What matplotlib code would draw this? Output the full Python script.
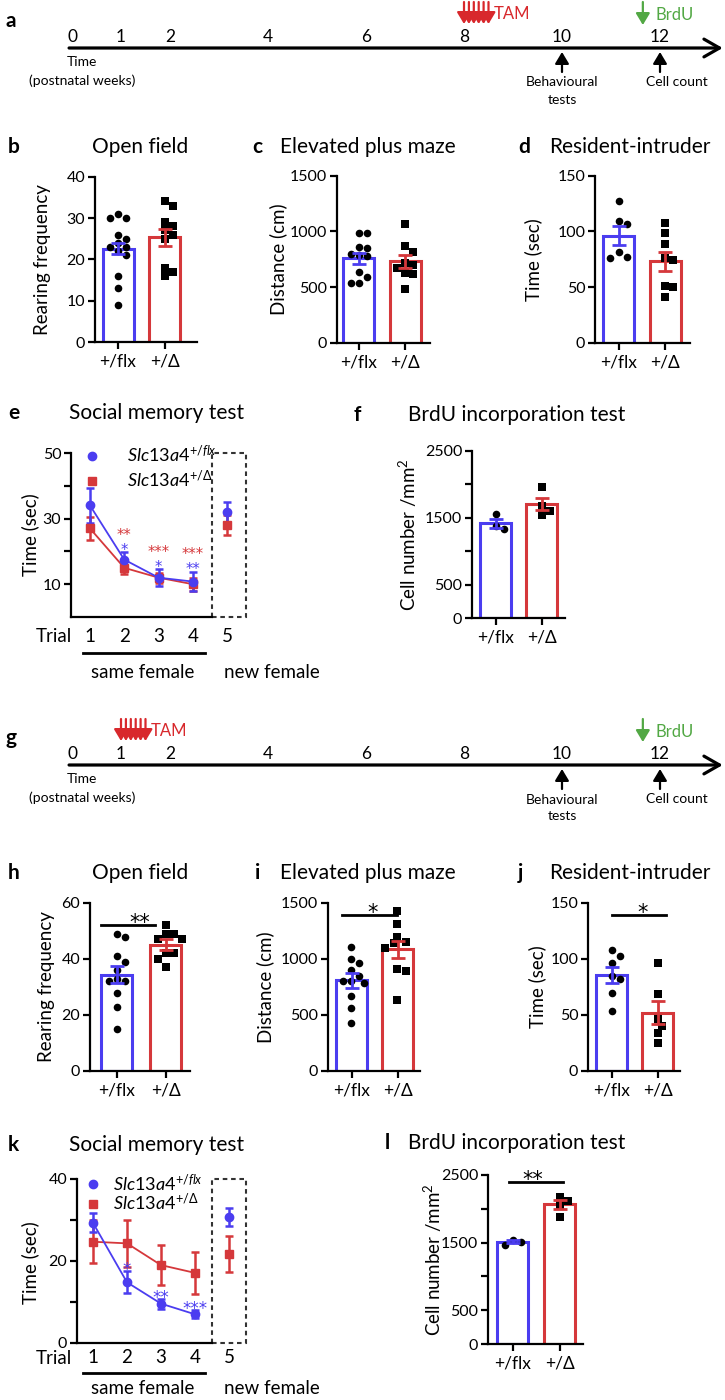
import numpy as np
import matplotlib
matplotlib.use("Agg")
import matplotlib.pyplot as plt
from matplotlib.patches import Rectangle
from matplotlib.lines import Line2D

plt.rcParams['font.family'] = ['Lato', 'DejaVu Sans']
plt.rcParams['mathtext.fontset'] = 'custom'
plt.rcParams['mathtext.it'] = 'Lato:italic'
plt.rcParams['mathtext.rm'] = 'Lato'

BLUE = '#4b3df0'
RED = '#d5383b'
GREEN = '#52a844'
TAM_RED = '#d8282c'

# ---------------- data ----------------
weeks = [0, 1, 2, 4, 6, 8, 10, 12]
tam_adult = [8.0, 8.1, 8.2, 8.3, 8.4, 8.5]
tam_juvenile = [1.0, 1.1, 1.2, 1.3, 1.4, 1.5]
brdu_week = 11.65
behav_week = 10
count_week = 12

genotypes = ['+/flx', '+/Δ']
trials = [1, 2, 3, 4, 5]

# adult deletion (b-f)
of_flx_a = [30, 30, 31, 26, 25, 24, 23, 23, 22, 21, 16, 13, 9]
of_del_a = [34, 33, 29, 28, 27, 26, 25, 18, 17, 16]
of_mean_a = [22.6, 25.3]
of_sem_a = [1.3, 2.0]

epm_flx_a = [990, 990, 860, 850, 800, 790, 780, 640, 590, 540, 540]
epm_del_a = [1070, 870, 820, 720, 700, 670, 630, 620, 480]
epm_mean_a = [761, 731]
epm_sem_a = [50, 60]

ri_flx_a = [127, 109, 107, 82, 77, 76]
ri_del_a = [108, 99, 89, 76, 74, 51, 50, 41]
ri_mean_a = [96.3, 73.5]
ri_sem_a = [8.5, 8.5]

sm_flx_a = [34, 17.5, 12, 10.8, 32]
sm_flx_err_a = [5.3, 2.2, 2.7, 3.0, 3.0]
sm_del_a = [27, 15, 12, 10, 28]
sm_del_err_a = [3.5, 2.0, 1.5, 2.0, 3.0]
sm_blue_stars_a = ['', '*', '*', '**', '']
sm_red_stars_a = ['', '**', '***', '***', '']

brdu_flx_a = [1550, 1375, 1325]
brdu_del_a = [1965, 1675, 1605, 1540]
brdu_mean_a = [1415, 1700]
brdu_sem_a = [65, 90]

# juvenile deletion (h-l)
of_flx_g = [49, 48, 41, 39, 36, 33, 32, 32, 28, 23, 15]
of_del_g = [52, 49, 49, 47, 47, 42, 42, 40, 37]
of_mean_g = [34.4, 45.1]
of_sem_g = [3.0, 2.0]

epm_flx_g = [1110, 1000, 960, 900, 850, 800, 800, 790, 670, 560, 430]
epm_del_g = [1430, 1310, 1200, 1150, 1140, 1100, 910, 890, 630]
epm_mean_g = [809, 1085]
epm_sem_g = [65, 75]

ri_flx_g = [108, 103, 96, 85, 82, 70, 54]
ri_del_g = [96, 69, 46, 40, 34, 25]
ri_mean_g = [85.8, 52.1]
ri_sem_g = [7, 10]

sm_flx_g = [29.3, 14.8, 9.6, 7.0, 30.7]
sm_flx_err_g = [2.3, 2.7, 1.2, 1.0, 2.2]
sm_del_g = [24.7, 24.3, 19.0, 17.1, 21.7]
sm_del_err_g = [5.2, 5.7, 4.9, 5.1, 4.5]
sm_blue_stars_g = ['', '*', '**', '***', '']

brdu_flx_g = [1535, 1470, 1510]
brdu_del_g = [2180, 2120, 2060, 1880]
brdu_mean_g = [1515, 2069]
brdu_sem_g = [20, 65]

# ---------------- layout helpers ----------------
W, H = 725, 1400
fig = plt.figure(figsize=(7.25, 14), dpi=100)


def px_axes(left, top, right, bottom):
    return fig.add_axes([left / W, 1 - bottom / H, (right - left) / W, (bottom - top) / H])


def ftext(x, y, s, **kw):
    fig.text(x / W, 1 - y / H, s, **kw)


def panel_head(letter, lx, title, tx, y):
    ftext(lx, y, letter, fontsize=15, fontweight='bold', va='center', ha='left')
    ftext(tx, y, title, fontsize=15, va='center', ha='center')


def style_axes(ax):
    for s in ('top', 'right'):
        ax.spines[s].set_visible(False)
    for s in ('left', 'bottom'):
        ax.spines[s].set_linewidth(1.6)
    ax.tick_params(which='both', length=5, width=1.6, direction='out')
    ax.tick_params(axis='y', labelsize=11.5, pad=2)


def swarm_x(ax, x0, vals, d):
    pts = ax.transData.transform(np.column_stack([np.full(len(vals), x0), vals]))
    py = pts[:, 1]
    px0 = pts[0, 0]
    cands = [0.0]
    for j in range(1, 40):
        cands += [j * d / 2, -j * d / 2]
    placed = []
    xs = np.zeros(len(vals))
    for i in np.argsort(-np.asarray(vals, dtype=float)):
        for c in cands:
            if all((c - qx) ** 2 + (py[i] - qy) ** 2 >= d * d * 0.95 for qx, qy in placed):
                break
        placed.append((c, py[i]))
        xs[i] = px0 + c
    back = ax.transData.inverted().transform(np.column_stack([xs, py]))
    return back[:, 0]


def star_text(ax, x, y, s, color, fs, gap_px):
    # centre of the asterisk glyph sits about 0.6 em above the baseline
    ax.annotate(s, xy=(x, y), xytext=(0, gap_px / 1.389 - 0.6 * fs),
                textcoords='offset points', ha='center', va='baseline',
                fontsize=fs, color=color, family='DejaVu Sans', annotation_clip=False)


def bar_panel(geom, flx, dl, means, sems, ylim, major, minor, ylabel, ylab_x, sig=None):
    left, top, right, bottom, c0, c1 = geom
    ax = px_axes(left, top, right, bottom)
    step = c1 - c0
    ax.set_xlim((left - c0) / step, (right - c0) / step)
    ax.set_ylim(*ylim)
    ax.bar([0, 1], means, width=31 / step, color='white', edgecolor=[BLUE, RED],
           linewidth=2.2, zorder=1)
    for x0, vals, mk, sz in ((0, flx, 'o', 30), (1, dl, 's', 34)):
        xs = swarm_x(ax, x0, vals, 8.0)
        ax.scatter(xs, vals, s=sz, marker=mk, color='black', zorder=2, linewidths=0, clip_on=False)
    for x0, m, e, c in zip([0, 1], means, sems, [BLUE, RED]):
        ax.errorbar(x0, m, yerr=e, color=c, capsize=5, elinewidth=2, capthick=2, zorder=3)
    style_axes(ax)
    ax.set_yticks(major)
    ax.set_yticks(minor, minor=True)
    ax.set_xticks([0, 1])
    ax.set_xticklabels(genotypes, fontsize=12.5)
    ax.tick_params(axis='x', pad=3)
    ftext(ylab_x, (top + bottom) / 2, ylabel, rotation=90, ha='center', va='center', fontsize=13.5)
    if sig is not None:
        s, x1, x2, xs_, frac = sig
        y = ylim[1] * frac
        ax.plot([x1, x2], [y, y], color='black', lw=2, clip_on=False)
        star_text(ax, xs_, y, s, 'black', 15, 8)
    return ax


def line_panel(geom, flx, flx_err, dl, dl_err, ylim, major, minor, box_px, offs,
               leg, blue_stars, red_stars=None, star_fs=10.5):
    left, top, right, bottom, t1px, step = geom
    ax = px_axes(left, top, right, bottom)
    x0, x1 = 1 + (left - t1px) / step, 1 + (right - t1px) / step
    ax.set_xlim(x0, x1)
    ax.set_ylim(*ylim)
    bx = 1 + (box_px - t1px) / step
    for vals, err, c, mk in ((dl, dl_err, RED, 's'), (flx, flx_err, BLUE, 'o')):
        ax.errorbar(trials[:4], vals[:4], yerr=err[:4], color=c, marker=mk, ms=6, lw=1.3,
                    capsize=3, elinewidth=1.8, capthick=1.8, clip_on=False)
        ax.errorbar(trials[4:], vals[4:], yerr=err[4:], color=c, marker=mk, ms=6, ls='none',
                    capsize=3, elinewidth=1.8, capthick=1.8)
    style_axes(ax)
    ax.spines['bottom'].set_bounds(x0, bx)
    ax.add_patch(Rectangle((bx, ylim[0]), x1 - bx - 0.02, ylim[1] - ylim[0], fill=False,
                           ls=(0, (2.2, 1.8)), lw=1.5, ec='#333333', clip_on=False))
    ax.set_yticks(major)
    ax.set_yticks(minor, minor=True)
    ax.set_xticks(trials)
    ax.set_xticklabels([str(t) for t in trials], fontsize=13.5)
    h = bottom - top
    num_off, line_off, txt_off = offs
    ax.tick_params(axis='x', length=0, pad=num_off / 1.389 - 6.5)
    tr = ax.get_xaxis_transform()
    ax.text(1 + (72 - t1px) / step, -num_off / h, 'Trial', transform=tr, ha='right',
            va='center', fontsize=13.5)
    ax.plot([1 + (83 - t1px) / step, 1 + (205 - t1px) / step], [-line_off / h] * 2,
            transform=tr, color='black', lw=2, clip_on=False)
    ax.text(1 + (143 - t1px) / step, -txt_off / h, 'same female', transform=tr,
            ha='center', va='center', fontsize=13.5)
    ax.text(1 + (272 - t1px) / step, -txt_off / h, 'new female', transform=tr,
            ha='center', va='center', fontsize=13.5)
    lx, ly, lsp, lpad = leg
    handles = [Line2D([], [], marker='o', color=BLUE, ls='none', ms=6),
               Line2D([], [], marker='s', color=RED, ls='none', ms=6)]
    ax.legend(handles, [r'$\mathit{Slc13a4}^{+/flx}$', r'$\mathit{Slc13a4}^{+/\Delta}$'],
              loc='upper left', bbox_to_anchor=(lx, ly), frameon=False, fontsize=13,
              handlelength=0.8, handletextpad=lpad, borderpad=0, borderaxespad=0,
              labelspacing=lsp)
    for i, t in enumerate(trials):
        if red_stars:
            ytop = max(flx[i] + flx_err[i], dl[i] + dl_err[i])
        else:
            ytop = flx[i] + flx_err[i]
        if blue_stars[i]:
            star_text(ax, t, ytop, blue_stars[i], BLUE, star_fs, 6)
        if red_stars and red_stars[i]:
            star_text(ax, t, ytop, red_stars[i], RED, star_fs, 21)
    return ax


def timeline(top, tam_weeks, letter):
    ax = px_axes(0, top, W, top + 130)
    ax.set_xlim(-72 / 49, (W - 72) / 49)
    ax.set_ylim(130, 0)
    ax.axis('off')
    ly = 48
    ax.annotate('', xy=(13.28, ly), xytext=(-0.06, ly),
                arrowprops=dict(arrowstyle='->,head_length=0.7,head_width=0.4', lw=2.3,
                                color='black', mutation_scale=16, shrinkA=0, shrinkB=0))
    for w in weeks:
        ax.text(w, 37, str(w), ha='center', va='center', fontsize=12.5)
    for w in tam_weeks:
        ax.annotate('', xy=(w, 24), xytext=(w, 2),
                    arrowprops=dict(arrowstyle='-|>,head_length=0.5,head_width=0.3', lw=1.6,
                                    color=TAM_RED, mutation_scale=14, shrinkA=0, shrinkB=0))
    ax.text(tam_weeks[-1] + 0.1, 14, 'TAM', color=TAM_RED, fontsize=12, va='center', ha='left')
    ax.annotate('', xy=(brdu_week, 25), xytext=(brdu_week, 2),
                arrowprops=dict(arrowstyle='-|>,head_length=0.5,head_width=0.3', lw=1.6,
                                color=GREEN, mutation_scale=14, shrinkA=0, shrinkB=0))
    ax.text(brdu_week + 0.25, 15, 'BrdU', color=GREEN, fontsize=12, va='center', ha='left')
    for w in (behav_week, count_week):
        ax.annotate('', xy=(w, 52), xytext=(w, 72),
                    arrowprops=dict(arrowstyle='-|>,head_length=0.5,head_width=0.3', lw=1.6,
                                    color='black', mutation_scale=14, shrinkA=0, shrinkB=0))
    ax.text(0.2, 62, 'Time', ha='center', va='center', fontsize=10)
    ax.text(0.2, 81, '(postnatal weeks)', ha='center', va='center', fontsize=10)
    ax.text(behav_week, 91, 'Behavioural\ntests', ha='center', va='center', fontsize=10,
            linespacing=1.5)
    ax.text(count_week + 0.35, 82, 'Cell count', ha='center', va='center', fontsize=10)
    ftext(5, top + 21, letter, fontsize=15, fontweight='bold', va='center')


# ---------------- adult (a-f) ----------------
timeline(0, tam_adult, 'a')

panel_head('b', 8, 'Open field', 140, 147)
bar_panel((95, 176.7, 197, 342, 118, 164.5), of_flx_a, of_del_a, of_mean_a, of_sem_a,
          (0, 40), [0, 10, 20, 30, 40], [], 'Rearing frequency', 43)

panel_head('c', 252, 'Elevated plus maze', 368, 147)
bar_panel((337, 175.7, 430, 343, 358.5, 405), epm_flx_a, epm_del_a, epm_mean_a, epm_sem_a,
          (0, 1500), [0, 500, 1000, 1500], [], 'Distance (cm)', 278)

panel_head('d', 518, 'Resident-intruder', 630, 147)
bar_panel((595, 175.7, 690, 343, 618.5, 665), ri_flx_a, ri_del_a, ri_mean_a, ri_sem_a,
          (0, 150), [0, 50, 100, 150], [], 'Time (sec)', 533)

panel_head('e', 8, 'Social memory test', 157, 413)
line_panel((71, 453, 247, 617, 90, 34.25), sm_flx_a, sm_flx_err_a, sm_del_a, sm_del_err_a,
           (0, 50), [10, 30, 50], [20, 40], 212, (20, 36, 55), (0.08, 1.055, 0.2, 1.5),
           sm_blue_stars_a, sm_red_stars_a, 10.5)
ftext(30, 535, 'Time (sec)', rotation=90, ha='center', va='center', fontsize=13.5)

panel_head('f', 354, 'BrdU incorporation test', 517, 415)
bar_panel((472, 451, 565, 618, 496, 541.5), brdu_flx_a, brdu_del_a, brdu_mean_a, brdu_sem_a,
          (0, 2500), [0, 500, 1500, 2500], [1000, 2000], 'Cell number /mm$^2$', 408)

# ---------------- juvenile (g-l) ----------------
timeline(717, tam_juvenile, 'g')

panel_head('h', 8, 'Open field', 140, 873)
bar_panel((90, 903, 190, 1071, 116.5, 165.5), of_flx_g, of_del_g, of_mean_g, of_sem_g,
          (0, 60), [0, 20, 40, 60], [], 'Rearing frequency', 47,
          sig=('**', -0.31, 0.79, 0.48, 0.87))

panel_head('i', 255, 'Elevated plus maze', 368, 873)
bar_panel((328, 903, 420, 1071, 351.5, 397.5), epm_flx_g, epm_del_g, epm_mean_g, epm_sem_g,
          (0, 1500), [0, 500, 1000, 1500], [], 'Distance (cm)', 265,
          sig=('*', -0.21, 0.99, 0.45, 0.93))

panel_head('j', 518, 'Resident-intruder', 630, 873)
bar_panel((588, 903, 680, 1071, 611.5, 657.5), ri_flx_g, ri_del_g, ri_mean_g, ri_sem_g,
          (0, 150), [0, 50, 100, 150], [], 'Time (sec)', 537,
          sig=('*', 0.0, 1.18, 0.68, 0.93))

panel_head('k', 8, 'Social memory test', 157, 1145)
line_panel((77, 1179, 247, 1343, 93, 34), sm_flx_g, sm_flx_err_g, sm_del_g, sm_del_err_g,
           (0, 40), [0, 20, 40], [10, 30], 212, (15, 30, 45), (0.05, 1.04, -0.1, 0.7),
           sm_blue_stars_g, None, 12)
ftext(30, 1263, 'Time (sec)', rotation=90, ha='center', va='center', fontsize=13.5)

panel_head('l', 385, 'BrdU incorporation test', 517, 1143)
bar_panel((488, 1175, 583, 1344, 512.5, 559.5), brdu_flx_g, brdu_del_g, brdu_mean_g, brdu_sem_g,
          (0, 2500), [0, 500, 1500, 2500], [1000, 2000], 'Cell number /mm$^2$', 433,
          sig=('**', -0.07, 1.08, 0.44, 0.96))

fig.savefig('out.png', dpi=100, facecolor='white')
